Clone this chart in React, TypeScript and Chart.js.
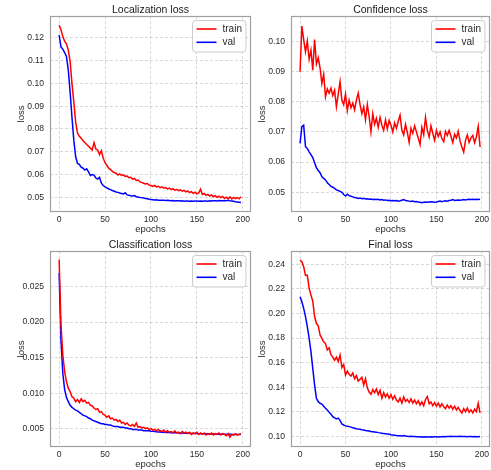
import React, { useEffect, useRef } from "react";
import { Chart, registerables } from "chart.js";

Chart.register(...registerables);

const FONT = "'Liberation Sans', Arial, Helvetica, sans-serif";

const epochs = [
  0, 2, 4, 6, 8, 10, 12, 14, 16, 18,
  20, 22, 24, 26, 28, 30, 32, 34, 36, 38,
  40, 42, 44, 46, 48, 50, 52, 54, 56, 58,
  60, 62, 64, 66, 68, 70, 72, 74, 76, 78,
  80, 82, 84, 86, 88, 90, 92, 94, 96, 98,
  100, 102, 104, 106, 108, 110, 112, 114, 116, 118,
  120, 122, 124, 126, 128, 130, 132, 134, 136, 138,
  140, 142, 144, 146, 148, 150, 152, 154, 156, 158,
  160, 162, 164, 166, 168, 170, 172, 174, 176, 178,
  180, 182, 184, 186, 188, 190, 192, 194, 196, 198,
];

const xTickValues = [0, 50, 100, 150, 200];
const xTickLabels = ["0", "50", "100", "150", "200"];

const seriesLabels = ["train", "val"];
const seriesColors = ["#ff0000", "#0000ff"];

// Localization loss
const locTrain = [
  0.1255, 0.1235, 0.1205, 0.1185, 0.1172, 0.1146, 0.1095, 0.0998, 0.0918, 0.0830,
  0.0782, 0.0768, 0.0759, 0.0748, 0.0741, 0.0732, 0.0724, 0.0716, 0.0708, 0.0740,
  0.0712, 0.0708, 0.0688, 0.0705, 0.0672, 0.0652, 0.0640, 0.0628, 0.0622, 0.0614,
  0.0609, 0.0606, 0.0598, 0.0603, 0.0596, 0.0599, 0.0592, 0.0594, 0.0586, 0.0588,
  0.0580, 0.0583, 0.0574, 0.0576, 0.0568, 0.0566, 0.0562, 0.0559, 0.0561, 0.0554,
  0.0552, 0.0548, 0.0553, 0.0546, 0.0549, 0.0543, 0.0546, 0.0540, 0.0543, 0.0537,
  0.0541, 0.0534, 0.0538, 0.0531, 0.0535, 0.0530, 0.0533, 0.0527, 0.0531, 0.0524,
  0.0528, 0.0521, 0.0525, 0.0518, 0.0523, 0.0516, 0.0520, 0.0536, 0.0513, 0.0517,
  0.0509, 0.0513, 0.0506, 0.0511, 0.0503, 0.0508, 0.0500, 0.0505, 0.0499, 0.0504,
  0.0496, 0.0501, 0.0494, 0.0502, 0.0493, 0.0500, 0.0495, 0.0499, 0.0494, 0.0503,
];
const locVal = [
  0.1212, 0.1160, 0.1150, 0.1135, 0.1117, 0.1058, 0.0960, 0.0850, 0.0750, 0.0678,
  0.0649, 0.0645, 0.0632, 0.0628, 0.0620, 0.0625, 0.0612, 0.0596, 0.0600, 0.0598,
  0.0585, 0.0580, 0.0588, 0.0562, 0.0552, 0.0546, 0.0542, 0.0537, 0.0534, 0.0530,
  0.0527, 0.0524, 0.0522, 0.0519, 0.0517, 0.0515, 0.0520, 0.0511, 0.0509, 0.0507,
  0.0506, 0.0508, 0.0503, 0.0502, 0.0500, 0.0499, 0.0497, 0.0495, 0.0494, 0.0492,
  0.0491, 0.0490, 0.0489, 0.0490, 0.0488, 0.0488, 0.0487, 0.0488, 0.0486, 0.0487,
  0.0486, 0.0485, 0.0486, 0.0484, 0.0485, 0.0485, 0.0484, 0.0485, 0.0483, 0.0484,
  0.0484, 0.0483, 0.0484, 0.0483, 0.0484, 0.0484, 0.0483, 0.0484, 0.0483, 0.0484,
  0.0484, 0.0483, 0.0485, 0.0484, 0.0485, 0.0485, 0.0484, 0.0486, 0.0485, 0.0485,
  0.0486, 0.0485, 0.0487, 0.0485, 0.0484, 0.0483, 0.0481, 0.0480, 0.0479, 0.0478,
];
const locTickValues = [0.05, 0.06, 0.07, 0.08, 0.09, 0.1, 0.11, 0.12];
const locTickLabels = ["0.05", "0.06", "0.07", "0.08", "0.09", "0.10", "0.11", "0.12"];

// Confidence loss
const confTrain = [
  0.0899, 0.1050, 0.1005, 0.0965, 0.1000, 0.0940, 0.0970, 0.0904, 0.1005, 0.0925,
  0.0945, 0.0912, 0.0860, 0.0890, 0.0816, 0.0842, 0.0828, 0.0845, 0.0820, 0.0838,
  0.0783, 0.0825, 0.0866, 0.0805, 0.0790, 0.0825, 0.0770, 0.0805, 0.0780, 0.0795,
  0.0773, 0.0805, 0.0828, 0.0790, 0.0760, 0.0783, 0.0740, 0.0790, 0.0750, 0.0700,
  0.0760, 0.0725, 0.0745, 0.0715, 0.0748, 0.0722, 0.0705, 0.0740, 0.0710, 0.0738,
  0.0722, 0.0700, 0.0730, 0.0712, 0.0735, 0.0755, 0.0705, 0.0690, 0.0725, 0.0698,
  0.0665, 0.0712, 0.0695, 0.0720, 0.0700, 0.0680, 0.0658, 0.0715, 0.0690, 0.0748,
  0.0705, 0.0683, 0.0720, 0.0695, 0.0672, 0.0705, 0.0685, 0.0700, 0.0678, 0.0668,
  0.0702, 0.0688, 0.0705, 0.0685, 0.0665, 0.0692, 0.0680, 0.0702, 0.0670, 0.0650,
  0.0633, 0.0672, 0.0690, 0.0665, 0.0680, 0.0688, 0.0664, 0.0684, 0.0718, 0.0650,
];
const confVal = [
  0.0662, 0.0717, 0.0722, 0.0651, 0.0645, 0.0634, 0.0625, 0.0615, 0.0598, 0.0582,
  0.0572, 0.0565, 0.0552, 0.0546, 0.0541, 0.0532, 0.0526, 0.0520, 0.0517, 0.0513,
  0.0508, 0.0506, 0.0503, 0.0500, 0.0493, 0.0488, 0.0494, 0.0489, 0.0487, 0.0485,
  0.0483, 0.0482, 0.0480, 0.0481, 0.0479, 0.0480, 0.0478, 0.0479, 0.0477, 0.0478,
  0.0476, 0.0477, 0.0476, 0.0477, 0.0475, 0.0476, 0.0474, 0.0475, 0.0473, 0.0474,
  0.0472, 0.0473, 0.0472, 0.0473, 0.0471, 0.0472, 0.0474, 0.0476, 0.0473, 0.0472,
  0.0471, 0.0470, 0.0471, 0.0469, 0.0470, 0.0468, 0.0467, 0.0466, 0.0467, 0.0468,
  0.0467, 0.0468, 0.0469, 0.0468, 0.0467, 0.0468, 0.0470, 0.0471, 0.0469, 0.0471,
  0.0472, 0.0471, 0.0473, 0.0474, 0.0476, 0.0473, 0.0474, 0.0475, 0.0474, 0.0475,
  0.0476, 0.0475, 0.0476, 0.0477, 0.0476, 0.0477, 0.0476, 0.0477, 0.0476, 0.0477,
];
const confTickValues = [0.05, 0.06, 0.07, 0.08, 0.09, 0.1];
const confTickLabels = ["0.05", "0.06", "0.07", "0.08", "0.09", "0.10"];

// Classification loss
const clsTrain = [
  0.0288, 0.0196, 0.0154, 0.0130, 0.0116, 0.0107, 0.0102, 0.0095, 0.0093, 0.0088,
  0.0091, 0.0087, 0.0092, 0.0088, 0.0090, 0.0086, 0.0087, 0.0083, 0.0082, 0.0079,
  0.0077, 0.0078, 0.0073, 0.0074, 0.0070, 0.0069, 0.0066, 0.0068, 0.0064, 0.0065,
  0.0062, 0.0063, 0.0060, 0.0062, 0.0058, 0.0059, 0.0056, 0.0058, 0.0055, 0.0054,
  0.0056, 0.0053, 0.0058, 0.0052, 0.0053, 0.0051, 0.0052, 0.0050, 0.0051, 0.0049,
  0.0050, 0.0048, 0.0049, 0.0047, 0.0049, 0.0047, 0.0046, 0.0048, 0.0045, 0.0047,
  0.0045, 0.0046, 0.0044, 0.0047, 0.0044, 0.0045, 0.0043, 0.0046, 0.0044, 0.0045,
  0.0043, 0.0045, 0.0042, 0.0044, 0.0043, 0.0045, 0.0042, 0.0044, 0.0042, 0.0044,
  0.0041, 0.0043, 0.0042, 0.0044, 0.0041, 0.0043, 0.0042, 0.0044, 0.0041, 0.0043,
  0.0042, 0.0040, 0.0043, 0.0038, 0.0042, 0.0041, 0.0043, 0.0041, 0.0042, 0.0043,
];
const clsVal = [
  0.0269, 0.0175, 0.0128, 0.0105, 0.0094, 0.0088, 0.0083, 0.0080, 0.0078, 0.0076,
  0.0075, 0.0073, 0.0071, 0.0069, 0.0068, 0.0067, 0.0065, 0.0064, 0.0062, 0.0061,
  0.0060, 0.0059, 0.0058, 0.0057, 0.0057, 0.0056, 0.0056, 0.0055, 0.0055, 0.0054,
  0.0053, 0.0053, 0.0053, 0.0052, 0.0052, 0.0052, 0.0051, 0.0051, 0.0050, 0.0050,
  0.0049, 0.0049, 0.0049, 0.0048, 0.0048, 0.0048, 0.0047, 0.0047, 0.0047, 0.0047,
  0.00465, 0.00462, 0.00459, 0.00456, 0.00454, 0.00452, 0.0045, 0.00448, 0.00447, 0.00446,
  0.00445, 0.00444, 0.00443, 0.00442, 0.00441, 0.0044, 0.00439, 0.00438, 0.00437, 0.00436,
  0.00435, 0.00434, 0.00433, 0.00432, 0.00432, 0.00431, 0.0043, 0.00429, 0.00429, 0.00428,
  0.00427, 0.00426, 0.00426, 0.00425, 0.00424, 0.00424, 0.00423, 0.00423, 0.00422, 0.00422,
  0.00421, 0.00421, 0.0042, 0.0042, 0.00419, 0.00419, 0.00418, 0.00418, 0.00418, 0.00417,
];
const clsTickValues = [0.005, 0.01, 0.015, 0.02, 0.025];
const clsTickLabels = ["0.005", "0.010", "0.015", "0.020", "0.025"];

// Final loss
const finalTrain = [
  0.2435, 0.2422, 0.2380, 0.2310, 0.2313, 0.2205, 0.2150, 0.2100, 0.1975, 0.1920,
  0.1900, 0.1825, 0.1798, 0.1770, 0.1755, 0.1703, 0.1720, 0.1665, 0.1645, 0.1620,
  0.1645, 0.1610, 0.1662, 0.1560, 0.1585, 0.1499, 0.1530, 0.1505, 0.1490, 0.1515,
  0.1470, 0.1495, 0.1450, 0.1465, 0.1480, 0.1418, 0.1470, 0.1395, 0.1360, 0.1342,
  0.1380, 0.1355, 0.1385, 0.1340, 0.1375, 0.1310, 0.1355, 0.1320, 0.1345, 0.1310,
  0.1340, 0.1300, 0.1330, 0.1295, 0.1280, 0.1310, 0.1270, 0.1320, 0.1285, 0.1300,
  0.1275, 0.1305, 0.1270, 0.1295, 0.1265, 0.1290, 0.1255, 0.1280, 0.1250, 0.1300,
  0.1323, 0.1265, 0.1280, 0.1250, 0.1275, 0.1245, 0.1270, 0.1240, 0.1265, 0.1240,
  0.1225, 0.1255, 0.1230, 0.1250, 0.1220, 0.1245, 0.1215, 0.1235, 0.1210, 0.1190,
  0.1225, 0.1200, 0.1230, 0.1195, 0.1215, 0.1190, 0.1220, 0.1200, 0.1269, 0.1190,
];
const finalVal = [
  0.2137, 0.2096, 0.2042, 0.1974, 0.1893, 0.1798, 0.1689, 0.1553, 0.1418, 0.1309,
  0.1282, 0.1269, 0.1262, 0.1245, 0.1228, 0.1215, 0.1195, 0.1180, 0.1160, 0.1150,
  0.1141, 0.1148, 0.1130, 0.1100, 0.1092, 0.1085, 0.1082, 0.1079, 0.1075, 0.1070,
  0.1066, 0.1062, 0.1059, 0.1057, 0.1054, 0.1052, 0.1048, 0.1046, 0.1043, 0.1040,
  0.1038, 0.1036, 0.1034, 0.1030, 0.1028, 0.1025, 0.1022, 0.1020, 0.1018, 0.1016,
  0.1012, 0.1010, 0.1008, 0.1006, 0.1005, 0.1004, 0.1002, 0.1006, 0.1003, 0.1000,
  0.0999, 0.1000, 0.0998, 0.0999, 0.0996, 0.0997, 0.0995, 0.0996, 0.0995, 0.0996,
  0.0994, 0.0995, 0.0996, 0.0995, 0.0997, 0.0996, 0.0995, 0.0997, 0.0996, 0.0998,
  0.0997, 0.0999, 0.0998, 0.1001, 0.0999, 0.0998, 0.0999, 0.0998, 0.1000, 0.0999,
  0.0998, 0.0999, 0.0997, 0.0998, 0.0999, 0.0997, 0.0998, 0.0996, 0.0997, 0.0998,
];
const finalTickValues = [0.1, 0.12, 0.14, 0.16, 0.18, 0.2, 0.22, 0.24];
const finalTickLabels = ["0.10", "0.12", "0.14", "0.16", "0.18", "0.20", "0.22", "0.24"];

type PanelSpec = {
  title: string;
  train: number[];
  val: number[];
  yTicks: number[];
  yLabels: string[];
  yMin: number;
  yMax: number;
  left: number;
  top: number;
  w: number;
};

const panels: PanelSpec[] = [
  { title: "Localization loss", train: locTrain, val: locVal, yTicks: locTickValues, yLabels: locTickLabels, yMin: 0.0436, yMax: 0.1295, left: 50, top: 0, w: 201 },
  { title: "Confidence loss", train: confTrain, val: confVal, yTicks: confTickValues, yLabels: confTickLabels, yMin: 0.0435, yMax: 0.1083, left: 291, top: 0, w: 199 },
  { title: "Classification loss", train: clsTrain, val: clsVal, yTicks: clsTickValues, yLabels: clsTickLabels, yMin: 0.00242, yMax: 0.0300, left: 50, top: 235, w: 201 },
  { title: "Final loss", train: finalTrain, val: finalVal, yTicks: finalTickValues, yLabels: finalTickLabels, yMin: 0.0913, yMax: 0.2508, left: 291, top: 235, w: 199 },
];

const AXIS_W = 50;
const XAXIS_H = 23;
const CANVAS_H = 235;
const TEXT = "#2a2a2a";

const frameLegendPlugin = {
  id: "frameLegend",
  afterDatasetsDraw(chart: any) {
    const { ctx, chartArea: a } = chart;
    ctx.save();
    // frame
    ctx.strokeStyle = "#a0a0a0";
    ctx.lineWidth = 1.2;
    const l = Math.floor(a.left) + 0.5;
    const t = Math.floor(a.top) + 0.5;
    const r = Math.round(a.right) - 0.5;
    const b = Math.round(a.bottom) - 0.5;
    ctx.strokeRect(l, t, r - l, b - t);

    // legend
    ctx.font = `10px ${FONT}`;
    const items = chart.data.datasets.map((d: any) => ({ label: d.label, color: d.borderColor }));
    const tw = Math.max(...items.map((it: any) => ctx.measureText(it.label).width));
    const bw = 30 + tw + 4;
    const bh = 31.5;
    const bx = Math.round(a.right - 6 - bw) + 0.5;
    const by = Math.round(a.top + 4) + 0.5;
    const rad = 3;
    ctx.beginPath();
    ctx.moveTo(bx + rad, by);
    ctx.lineTo(bx + bw - rad, by);
    ctx.arcTo(bx + bw, by, bx + bw, by + rad, rad);
    ctx.lineTo(bx + bw, by + bh - rad);
    ctx.arcTo(bx + bw, by + bh, bx + bw - rad, by + bh, rad);
    ctx.lineTo(bx + rad, by + bh);
    ctx.arcTo(bx, by + bh, bx, by + bh - rad, rad);
    ctx.lineTo(bx, by + rad);
    ctx.arcTo(bx, by, bx + rad, by, rad);
    ctx.closePath();
    ctx.fillStyle = "rgba(255,255,255,0.8)";
    ctx.fill();
    ctx.strokeStyle = "#cccccc";
    ctx.lineWidth = 1;
    ctx.stroke();

    items.forEach((it: any, k: number) => {
      const y = by + 8.5 + k * 13.3;
      ctx.strokeStyle = it.color;
      ctx.lineWidth = 1.6;
      ctx.beginPath();
      ctx.moveTo(bx + 4, y);
      ctx.lineTo(bx + 24, y);
      ctx.stroke();
      ctx.fillStyle = TEXT;
      ctx.textBaseline = "middle";
      ctx.textAlign = "left";
      ctx.fillText(it.label, bx + 30, y);
    });
    ctx.restore();
  },
};

function LossPanel({ spec }: { spec: PanelSpec }) {
  const ref = useRef<HTMLCanvasElement>(null);
  const cw = AXIS_W + spec.w + AXIS_W;

  useEffect(() => {
    const toPoints = (vals: number[]) => epochs.map((e, i) => ({ x: e, y: vals[i] }));
    const chart = new Chart(ref.current as HTMLCanvasElement, {
      type: "line",
      data: {
        datasets: [
          { label: seriesLabels[0], data: toPoints(spec.train), borderColor: seriesColors[0], backgroundColor: seriesColors[0], borderWidth: 1.5, pointRadius: 0, tension: 0, fill: false },
          { label: seriesLabels[1], data: toPoints(spec.val), borderColor: seriesColors[1], backgroundColor: seriesColors[1], borderWidth: 1.5, pointRadius: 0, tension: 0, fill: false },
        ],
      },
      options: {
        animation: false,
        responsive: false,
        events: [],
        layout: { padding: 0 },
        plugins: {
          legend: { display: false },
          tooltip: { enabled: false },
          title: {
            display: true,
            text: spec.title,
            color: "#1a1a1a",
            font: { family: FONT, size: 10.5, weight: "normal", lineHeight: 1.15 },
            padding: { top: 4, bottom: 0 },
          },
        },
        scales: {
          x: {
            type: "linear",
            min: -9.95,
            max: 208.95,
            afterBuildTicks: (s: any) => {
              s.ticks = xTickValues.map((v) => ({ value: v }));
            },
            afterFit: (s: any) => {
              s.height = XAXIS_H;
            },
            ticks: {
              color: TEXT,
              font: { family: FONT, size: 8.6 },
              padding: 2,
              maxRotation: 0,
              autoSkip: false,
              callback: (v: any) => {
                const i = xTickValues.indexOf(Number(v));
                return i >= 0 ? xTickLabels[i] : "";
              },
            },
            grid: { color: "rgba(0,0,0,0.19)", lineWidth: 0.8, drawTicks: false },
            border: { display: false, dash: [3, 2] },
            title: {
              display: true,
              text: "epochs",
              color: TEXT,
              font: { family: FONT, size: 9.5 },
              padding: { top: 0, bottom: 0 },
            },
          },
          y: {
            type: "linear",
            position: "left",
            min: spec.yMin,
            max: spec.yMax,
            afterBuildTicks: (s: any) => {
              s.ticks = spec.yTicks.map((v) => ({ value: v }));
            },
            afterFit: (s: any) => {
              s.width = AXIS_W;
            },
            ticks: {
              color: TEXT,
              font: { family: FONT, size: 8.6 },
              padding: 6,
              autoSkip: false,
              callback: (v: any) => {
                const i = spec.yTicks.findIndex((t) => Math.abs(t - Number(v)) < 1e-9);
                return i >= 0 ? spec.yLabels[i] : "";
              },
            },
            grid: { color: "rgba(0,0,0,0.19)", lineWidth: 0.8, drawTicks: false },
            border: { display: false, dash: [3, 2] },
            title: {
              display: true,
              text: "loss",
              color: TEXT,
              font: { family: FONT, size: 9.5 },
              padding: { top: 16, bottom: 0 },
            },
          },
          yR: {
            type: "linear",
            position: "right",
            display: true,
            afterFit: (s: any) => {
              s.width = AXIS_W;
            },
            ticks: { display: false },
            grid: { display: false },
            border: { display: false },
          },
        },
      },
      plugins: [frameLegendPlugin],
    } as any);
    return () => chart.destroy();
  }, [spec]);

  return (
    <canvas
      ref={ref}
      width={cw}
      height={CANVAS_H}
      style={{
        position: "absolute",
        left: spec.left - AXIS_W,
        top: spec.top,
        width: cw,
        height: CANVAS_H,
      }}
    />
  );
}

export default function App() {
  return (
    <div
      style={{
        position: "fixed",
        left: 0,
        top: 0,
        width: 491,
        height: 470,
        overflow: "hidden",
        background: "#ffffff",
      }}
    >
      {panels.map((p) => (
        <LossPanel key={p.title} spec={p} />
      ))}
    </div>
  );
}
